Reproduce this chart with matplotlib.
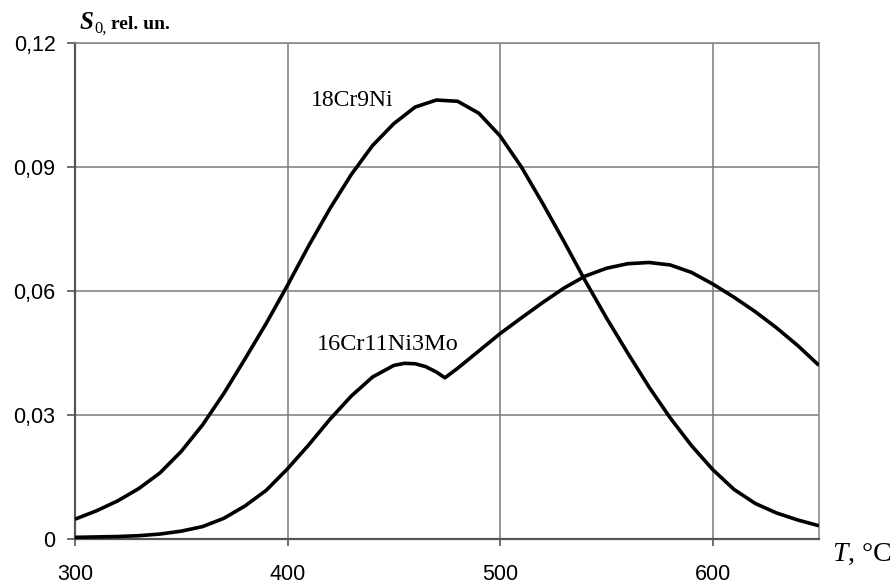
import matplotlib
matplotlib.use("Agg")
import matplotlib.pyplot as plt

# ---- data ----
T_18Cr9Ni = [300, 310, 320, 330, 340, 350, 360, 370, 380, 390, 400, 410, 420, 430,
             440, 450, 460, 470, 480, 490, 500, 510, 520, 530, 540, 550, 560, 570,
             580, 590, 600, 610, 620, 630, 640, 650]
S_18Cr9Ni = [0.0048, 0.0068, 0.0092, 0.0122, 0.0160, 0.0212, 0.0276, 0.0352, 0.0436,
             0.0522, 0.0614, 0.0710, 0.0800, 0.0882, 0.0952, 0.1005, 0.1045, 0.1062,
             0.1059, 0.1030, 0.0975, 0.0900, 0.0812, 0.0720, 0.0625, 0.0535, 0.0450,
             0.0368, 0.0293, 0.0226, 0.0168, 0.0120, 0.0086, 0.0063, 0.0046, 0.0032]

T_16Cr11Ni3Mo = [300, 310, 320, 330, 340, 350, 360, 370, 380, 390, 400, 410, 420, 430,
                 440, 450, 455, 460, 465, 470, 474, 480, 490, 500, 510, 520, 530, 540,
                 550, 560, 570, 580, 590, 600, 610, 620, 630, 640, 650]
S_16Cr11Ni3Mo = [0.0004, 0.0005, 0.0006, 0.0008, 0.0012, 0.0019, 0.0030, 0.0050,
                 0.0080, 0.0118, 0.0170, 0.0228, 0.0290, 0.0346, 0.0392, 0.0420,
                 0.0425, 0.0424, 0.0417, 0.0404, 0.0390, 0.0413, 0.0455, 0.0497,
                 0.0535, 0.0572, 0.0607, 0.0636, 0.0655, 0.0666, 0.0669, 0.0663,
                 0.0645, 0.0617, 0.0585, 0.0550, 0.0511, 0.0468, 0.0420]

x_ticks = [300, 400, 500, 600]
y_ticks = [0, 0.03, 0.06, 0.09, 0.12]
y_tick_labels = ["0", "0,03", "0,06", "0,09", "0,12"]

label_18 = "18Cr9Ni"
label_16 = "16Cr11Ni3Mo"

# ---- figure ----
fig = plt.figure(figsize=(8.92, 5.88), dpi=100)
ax = fig.add_axes([75/892, 1-539/588, (819-75)/892, (539-43)/588])

for T, S in [(T_18Cr9Ni, S_18Cr9Ni), (T_16Cr11Ni3Mo, S_16Cr11Ni3Mo)]:
    ax.plot(T, S, color="black", lw=2.6, solid_capstyle="butt",
            solid_joinstyle="round", zorder=3)

ax.set_xlim(300, 650)
ax.set_ylim(0, 0.12)
ax.set_xticks(x_ticks)
ax.set_xticklabels([str(t) for t in x_ticks])
ax.set_yticks(y_ticks)
ax.set_yticklabels(y_tick_labels)

for lab in ax.get_xticklabels() + ax.get_yticklabels():
    lab.set_fontfamily("Liberation Sans")
    lab.set_fontsize(15.5)
ax.tick_params(axis="x", length=5, width=1.2, color="#555555", pad=13)
ax.tick_params(axis="y", length=6, width=1.2, color="#555555", pad=8)

ax.grid(True, color="#7a7a7a", lw=1.1)
ax.set_axisbelow(True)
for s in ["left", "bottom"]:
    ax.spines[s].set_color("#555555")
    ax.spines[s].set_linewidth(1.6)
for s in ["top", "right"]:
    ax.spines[s].set_color("#8a8a8a")
    ax.spines[s].set_linewidth(1.2)

serif = "Liberation Serif"
ax.text(410.8, 0.106, label_18, family=serif, fontsize=17, va="center", ha="left")
ax.text(414, 0.047, label_16, family=serif, fontsize=17.5, va="center", ha="left")

# axis titles
fig.text(80/892, 1-29/588, "S", family=serif, fontsize=18, fontweight="bold",
         fontstyle="italic", va="baseline", ha="left")
fig.text(94/892, 1-33/588, "0,", family=serif, fontsize=12, va="baseline", ha="left")
fig.text(111/892, 1-29/588, "rel. un.", family=serif, fontsize=14,
         fontweight="bold", va="baseline", ha="left")

fig.text(832/892, 1-561/588, "T", family=serif, fontsize=20, fontstyle="italic",
         va="baseline", ha="left")
fig.text(848/892, 1-561/588, ", \u00b0C", family=serif, fontsize=20,
         va="baseline", ha="left")

fig.savefig("out.png", dpi=100)
